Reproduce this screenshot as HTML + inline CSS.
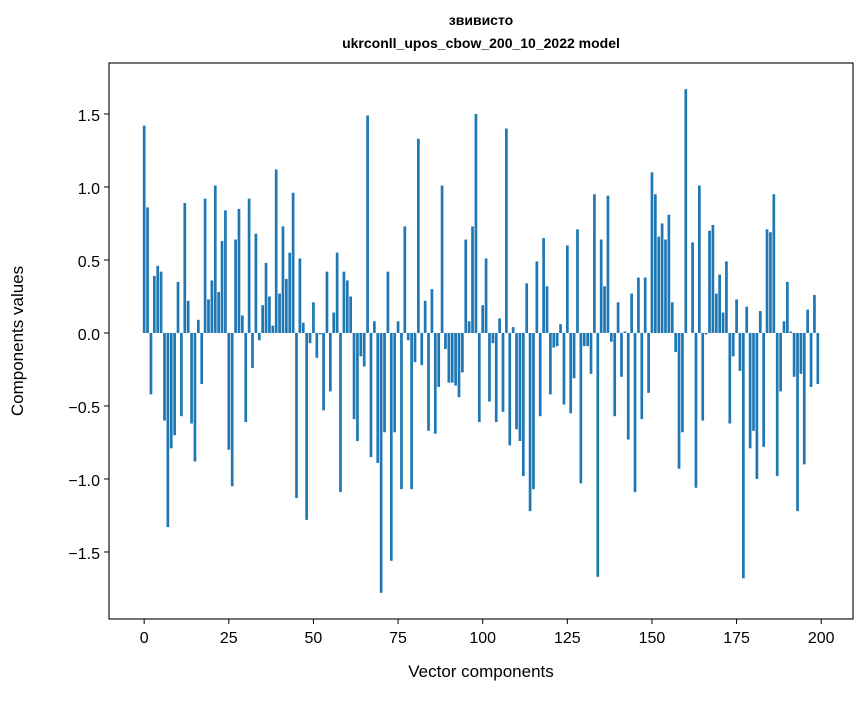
<!DOCTYPE html>
<html><head><meta charset="utf-8"><style>
body{margin:0;background:#fff}
svg text{font-family:"Liberation Sans","DejaVu Sans",sans-serif;fill:#000}
</style></head><body>
<svg id="chart" width="867" height="696" xmlns="http://www.w3.org/2000/svg">
<rect width="867" height="696" fill="#fff"/>
<text x="481" y="25" text-anchor="middle" font-size="14" font-weight="bold">звивисто</text>
<text x="481" y="48" text-anchor="middle" font-size="14" font-weight="bold">ukrconll_upos_cbow_200_10_2022 model</text>
<g id="bars"></g>
<g id="xt"></g>
<g id="yt"></g>
<rect x="109" y="63" width="744" height="556" fill="none" stroke="#000" stroke-width="1.1"/>
<text x="481" y="677" text-anchor="middle" font-size="17">Vector components</text>
<text transform="translate(23,341) rotate(-90)" text-anchor="middle" font-size="17">Components values</text>
</svg>
<script>
const values = [1.42,0.86,-0.42,0.39,0.46,0.42,-0.60,-1.33,-0.79,-0.70,0.35,-0.57,0.89,0.22,-0.62,-0.88,0.09,-0.35,0.92,0.23,0.36,1.01,0.28,0.63,0.84,-0.80,-1.05,0.64,0.85,0.12,-0.61,0.92,-0.24,0.68,-0.05,0.19,0.48,0.25,0.05,1.12,0.27,0.73,0.37,0.55,0.96,-1.13,0.51,0.07,-1.28,-0.07,
0.21,-0.17,-0.01,-0.53,0.42,-0.40,0.14,0.55,-1.09,0.42,0.36,0.25,-0.59,-0.74,-0.16,-0.23,1.49,-0.85,0.08,-0.89,-1.78,-0.68,0.42,-1.56,-0.68,0.08,-1.07,0.73,-0.05,-1.07,-0.20,1.33,-0.22,0.22,-0.67,0.30,-0.69,-0.37,1.01,-0.11,-0.34,-0.34,-0.36,-0.44,-0.27,0.64,0.08,0.73,1.50,-0.61,
0.19,0.51,-0.47,-0.07,-0.61,0.10,-0.54,1.40,-0.77,0.04,-0.66,-0.74,-0.98,0.34,-1.22,-1.07,0.49,-0.57,0.65,0.32,-0.42,-0.10,-0.09,0.06,-0.49,0.60,-0.55,-0.31,0.71,-1.03,-0.09,-0.09,-0.28,0.95,-1.67,0.64,0.32,0.94,-0.06,-0.57,0.21,-0.30,0.01,-0.73,0.27,-1.09,0.38,-0.59,0.38,-0.41,
1.10,0.95,0.66,0.75,0.64,0.81,0.21,-0.13,-0.93,-0.68,1.67,0.00,0.62,-1.06,1.01,-0.60,-0.01,0.70,0.74,0.27,0.40,0.14,0.49,-0.62,-0.16,0.23,-0.26,-1.68,0.18,-0.79,-0.67,-1.00,0.15,-0.78,0.71,0.69,0.95,-0.98,-0.40,0.08,0.35,0.01,-0.30,-1.22,-0.28,-0.90,0.16,-0.37,0.26,-0.35];
const xTicks = [0,25,50,75,100,125,150,175,200];
const yTicks = [-1.5,-1.0,-0.5,0.0,0.5,1.0,1.5];
const yTickLabels = ["\u22121.5","\u22121.0","\u22120.5","0.0","0.5","1.0","1.5"];
const NS="http://www.w3.org/2000/svg";
const X0=109,X1=853,Y0=63,Y1=619,xmin=-10.39,xmax=209.39,ymin=-1.959,ymax=1.849;
const xs=v=>X0+(v-xmin)/(xmax-xmin)*(X1-X0);
const ys=v=>Y1-(v-ymin)/(ymax-ymin)*(Y1-Y0);
const bars=document.getElementById('bars');
values.forEach((v,i)=>{
  const r=document.createElementNS(NS,'rect');
  const a=xs(i-0.4),b=xs(i+0.4);
  r.setAttribute('x',a);r.setAttribute('width',b-a);
  r.setAttribute('y',Math.min(ys(v),ys(0)));
  r.setAttribute('height',Math.abs(ys(v)-ys(0)));
  r.setAttribute('fill','#1f77b4');
  
  
  bars.appendChild(r);
});
const xt=document.getElementById('xt');
xTicks.forEach(t=>{
  const x=xs(t);
  const l=document.createElementNS(NS,'line');
  l.setAttribute('x1',x);l.setAttribute('x2',x);l.setAttribute('y1',Y1);l.setAttribute('y2',Y1+5);l.setAttribute('stroke','#000');
  
  
  xt.appendChild(l);
  const s=document.createElementNS(NS,'text');
  s.setAttribute('x',x);s.setAttribute('y',Y1+24);s.setAttribute('text-anchor','middle');s.setAttribute('font-size','16');
  s.textContent=t;
  
  
  xt.appendChild(s);
});
const yt=document.getElementById('yt');
yTicks.forEach((t,i)=>{
  const y=ys(t);
  const l=document.createElementNS(NS,'line');
  l.setAttribute('x1',X0-5);l.setAttribute('x2',X0);l.setAttribute('y1',y);l.setAttribute('y2',y);l.setAttribute('stroke','#000');
  
  
  yt.appendChild(l);
  const s=document.createElementNS(NS,'text');
  s.setAttribute('x',X0-9);s.setAttribute('y',y+7);s.setAttribute('text-anchor','end');s.setAttribute('font-size','16');
  s.textContent=yTickLabels[i];
  
  
  yt.appendChild(s);
});
</script>
</body></html>
